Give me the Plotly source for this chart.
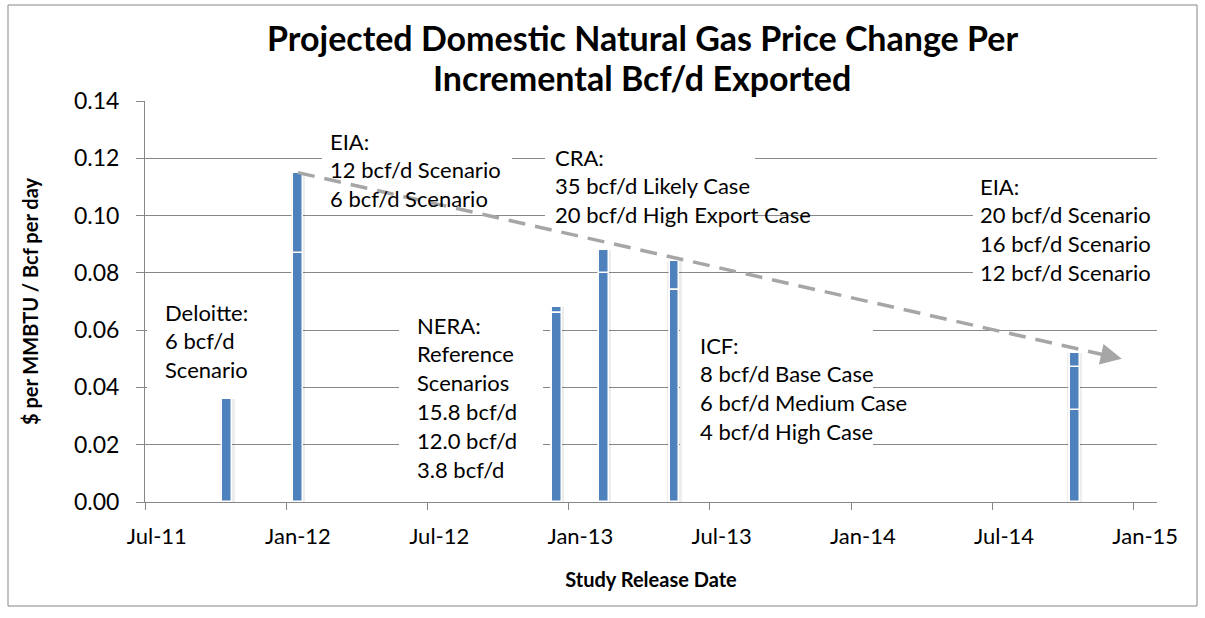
import plotly.graph_objects as go

# ---------------- data ----------------
studies = ["Deloitte", "EIA 2012", "NERA", "CRA", "ICF", "EIA 2014"]
release_months = ["2011-10", "2012-01", "2012-12", "2013-02", "2013-05", "2014-10"]
# price change per incremental Bcf/d, largest first (scenarios overlaid)
scenario_1 = [0.036, 0.115, 0.068, 0.088, 0.084, 0.052]
scenario_2 = [None, 0.087, 0.066, 0.080, 0.074, 0.047]
scenario_3 = [None, None, 0.066, None, 0.074, 0.032]

tick_months = ["2011-07", "2012-01", "2012-07", "2013-01", "2013-07", "2014-01", "2014-07", "2015-01"]
tick_labels = ["Jul-11", "Jan-12", "Jul-12", "Jan-13", "Jul-13", "Jan-14", "Jul-14", "Jan-15"]

trend_months = ["2012-01", "2014-12"]
trend_values = [0.115, 0.050]

title_lines = ["Projected Domestic Natural Gas Price Change Per", "Incremental Bcf/d Exported"]

label_blocks = [
    ["Deloitte:", "6 bcf/d", "Scenario"],
    ["EIA:", "12 bcf/d Scenario", "6 bcf/d Scenario"],
    ["CRA:", "35 bcf/d Likely Case", "20 bcf/d High Export Case"],
    ["EIA:", "20 bcf/d Scenario", "16 bcf/d Scenario", "12 bcf/d Scenario"],
    ["NERA:", "Reference", "Scenarios", "15.8 bcf/d", "12.0 bcf/d", "3.8 bcf/d"],
    ["ICF:", "8 bcf/d Base Case", "6 bcf/d Medium Case", "4 bcf/d High Case"],
]

# ---------------- helpers ----------------
def month_index(s):
    y, m = map(int, s.split("-"))
    return (y - 2011) * 12 + (m - 7)

FONT = "Lato"
GRID = "#878787"
BLUE = "#4F81BD"

W, H = 1205, 618
L, R, T, B = 145, 1157, 101, 502
XR = (-0.5, 42.5)
YR = (0.0, 0.14)

def px2x(px):
    return XR[0] + (px - L) / (R - L) * (XR[1] - XR[0])

def px2y(py):
    return YR[0] + (B - py) / (B - T) * (YR[1] - YR[0])

def ppx(px):
    return (px - L) / (R - L)

def ppy(py):
    return (B - py) / (B - T)

xs = [month_index(m) for m in release_months]

fig = go.Figure()
# soft shadow behind the bars
fig.add_trace(go.Bar(x=xs, y=scenario_1, width=0.62,
                     marker=dict(color="rgba(0,0,0,0.07)", line=dict(width=0)),
                     hoverinfo="skip", showlegend=False))
for vals in (scenario_1, scenario_2, scenario_3):
    fig.add_trace(go.Bar(
        x=xs, y=vals, width=0.42,
        marker=dict(color=BLUE, line=dict(color="white", width=1.5)),
        hoverinfo="skip", showlegend=False))

# text box layout (pixel positions)
box_px = [
    (147, 290, 292, 397),
    (322, 125, 512, 207),
    (545, 140, 755, 226),
    (973, 170, 1158, 290),
    (399, 300, 543, 490),
    (680, 326, 873, 460),
]
text_anchor_px = [
    (163, 312),
    (328, 141),
    (553, 157),
    (978, 186),
    (415, 325),
    (698, 345),
]
PITCH = 28.9

shapes = []
annotations = []
for (x0, y0, x1, y1) in box_px:
    shapes.append(dict(type="rect", xref="x", yref="y",
                       x0=px2x(x0), x1=px2x(x1), y0=px2y(y1), y1=px2y(y0),
                       fillcolor="white", line=dict(width=0), layer="between"))

tx = [month_index(m) for m in trend_months]
slope = (trend_values[1] - trend_values[0]) / (tx[1] - tx[0])
shapes.append(dict(type="line", xref="x", yref="y",
                   x0=tx[0], y0=trend_values[0], x1=tx[1] - 0.6,
                   y1=trend_values[0] + slope * (tx[1] - 0.6 - tx[0]),
                   line=dict(color="#A6A6A6", width=3.5, dash="17px,10px"), layer="above"))
annotations.append(dict(x=tx[1], y=trend_values[1], xref="x", yref="y",
                        ax=tx[1] - 0.8, ay=trend_values[1] - slope * 0.8,
                        axref="x", ayref="y", text="", showarrow=True,
                        arrowhead=2, arrowsize=1.2, arrowwidth=3.5, arrowcolor="#A6A6A6"))

for block, (ax_px, ay_px) in zip(label_blocks, text_anchor_px):
    for i, line in enumerate(block):
        annotations.append(dict(x=px2x(ax_px), y=px2y(ay_px + i * PITCH), xref="x", yref="y",
                                text=line, showarrow=False, xanchor="left", yanchor="middle",
                                font=dict(family=FONT, size=22, color="black")))

for i, line in enumerate(title_lines):
    annotations.append(dict(x=ppx(642), y=ppy(38 + 40 * i), xref="paper", yref="paper",
                            text="<b>" + line + "</b>", showarrow=False,
                            xanchor="center", yanchor="middle",
                            font=dict(family=FONT, size=34, color="black")))

# outer chart border
shapes.append(dict(type="rect", xref="paper", yref="paper",
                   x0=ppx(8), x1=ppx(1197), y0=ppy(606), y1=ppy(5),
                   line=dict(color="#868686", width=1), fillcolor="rgba(0,0,0,0)", layer="below"))

fig.update_layout(
    width=W, height=H,
    margin=dict(l=L, r=W - R, t=T, b=H - B),
    paper_bgcolor="white", plot_bgcolor="white",
    barmode="overlay", bargap=0,
    font=dict(family=FONT, size=18, color="black"),
    shapes=shapes, annotations=annotations,
)
fig.update_xaxes(
    range=list(XR), tickmode="array",
    tickvals=[month_index(m) for m in tick_months], ticktext=tick_labels,
    ticks="", showgrid=False, zeroline=False,
    showline=True, linecolor=GRID, linewidth=1,
    tickfont=dict(family=FONT, size=22), ticklabelstandoff=15,
    minor=dict(tickmode="array", tickvals=[month_index(m) - 0.5 for m in tick_months],
               ticks="outside", ticklen=7, tickcolor=GRID, showgrid=False),
    title=dict(text="<b>Study Release Date</b>", font=dict(family=FONT, size=20), standoff=24),
)
fig.update_yaxes(
    range=list(YR), tickmode="linear", tick0=0, dtick=0.02, tickformat=".2f",
    showgrid=True, gridcolor=GRID, gridwidth=1, zeroline=False,
    showline=True, linecolor=GRID, linewidth=1,
    ticks="outside", ticklen=8, tickcolor=GRID,
    tickfont=dict(family=FONT, size=23), ticklabelstandoff=12,
    title=dict(text="<b>$ per MMBTU / Bcf per day</b>", font=dict(family=FONT, size=20), standoff=29),
)

fig.write_html("out.html", config={"displayModeBar": False},
               post_script="document.body.style.margin='0';document.body.style.overflow='hidden';")
